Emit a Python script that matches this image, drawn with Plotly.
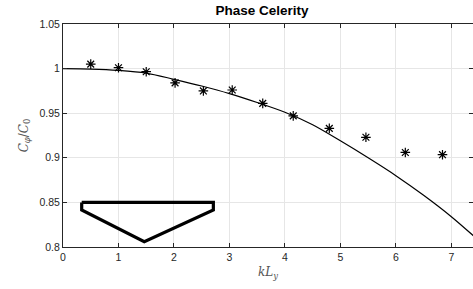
import plotly.graph_objects as go

# Measured data (asterisks)
kL_meas = [0.5, 1.0, 1.5, 2.02, 2.53, 3.05, 3.6, 4.15, 4.8, 5.46, 6.17, 6.84]
c_meas = [1.005, 1.001, 0.9965, 0.984, 0.975, 0.976, 0.961, 0.947, 0.933, 0.923, 0.906, 0.9035]

# Theory curve
kL_theory = [0, 0.5, 1, 1.5, 2, 2.5, 3, 3.5, 4, 4.5, 5, 5.5, 6, 6.5, 7, 7.5]
c_theory = [1.0, 0.9995, 0.998, 0.995, 0.988, 0.9805, 0.972, 0.962, 0.951, 0.937,
            0.919, 0.900, 0.880, 0.858, 0.834, 0.807]

# Outline shape drawn in the axes
shape_x = [0.337, 2.71, 2.71, 1.465, 0.337, 0.337]
shape_y = [0.850, 0.850, 0.8415, 0.806, 0.8415, 0.850]

x_ticks = [0, 1, 2, 3, 4, 5, 6, 7]
y_ticks = [0.8, 0.85, 0.9, 0.95, 1.0, 1.05]
y_tick_labels = ["0.8", "0.85", "0.9", "0.95", "1", "1.05"]

fig = go.Figure()
fig.add_trace(go.Scatter(x=kL_theory, y=c_theory, mode="lines",
                         line=dict(color="black", width=1.2, shape="spline", smoothing=0.8),
                         showlegend=False))
fig.add_trace(go.Scatter(x=kL_meas, y=c_meas, mode="markers",
                         marker=dict(symbol="asterisk-open", size=8, color="black",
                                     line=dict(color="black", width=1.2)),
                         showlegend=False))
fig.add_trace(go.Scatter(x=shape_x, y=shape_y, mode="lines",
                         line=dict(color="black", width=3.2),
                         showlegend=False))

axis_common = dict(showgrid=True, gridcolor="#e6e6e6", gridwidth=1,
                   showline=True, linecolor="#262626", linewidth=1,
                   mirror="ticks", ticks="inside", ticklen=4, tickcolor="#262626",
                   zeroline=False, automargin=False,
                   tickfont=dict(family="Liberation Sans, Arial, sans-serif", size=10.5, color="#262626"))

fig.update_xaxes(range=[0, 7.39], tickvals=x_ticks, **axis_common,
                 title=dict(text="<i>kL</i><sub><i>y</i></sub>",
                            font=dict(family="DejaVu Serif, serif", size=12, color="#555555"),
                            standoff=6))
fig.update_yaxes(range=[0.8, 1.05], tickvals=y_ticks, ticktext=y_tick_labels, **axis_common,
                 title=dict(text="<i>C</i><sub><i>φ</i></sub>/<i>C</i><sub>0</sub>",
                            font=dict(family="DejaVu Serif, serif", size=12, color="#555555"),
                            standoff=8))

fig.update_layout(
    width=473, height=289,
    margin=dict(l=63, r=0, t=24, b=42, autoexpand=False),
    plot_bgcolor="white", paper_bgcolor="white",
    title=dict(text="<b>Phase Celerity</b>", x=262/473, xanchor="center",
               y=1-10/289, yanchor="middle",
               font=dict(family="Liberation Sans, Arial, sans-serif", size=13.5, color="black")),
)

fig.write_html("out.html", config={"displayModeBar": False},
               post_script="document.body.style.margin='0';document.body.style.overflow='hidden';")
